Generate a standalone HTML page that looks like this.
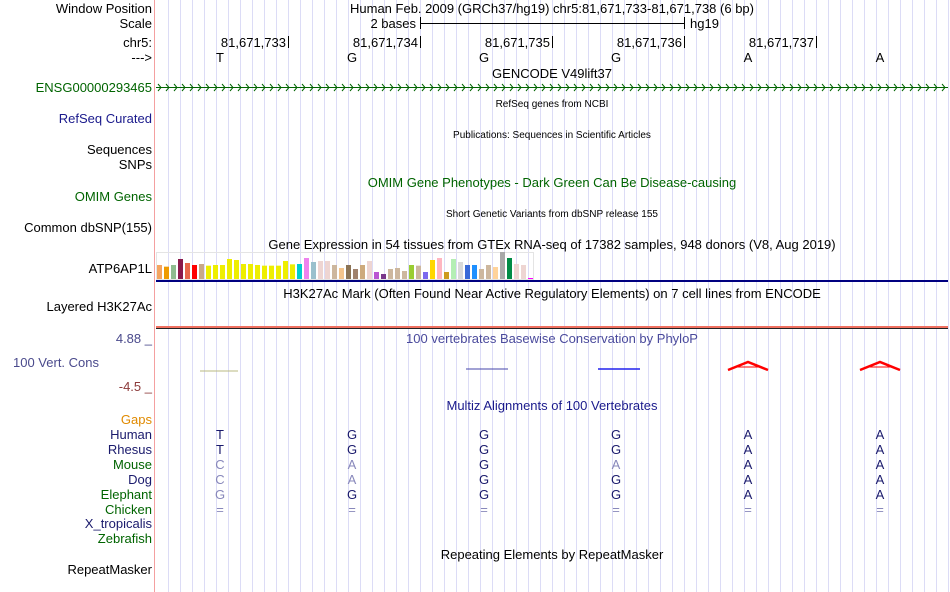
<!DOCTYPE html>
<html><head><meta charset="utf-8"><style>
body{margin:0;background:#fff;width:950px;height:592px;overflow:hidden}
svg{display:block;font-family:"Liberation Sans",sans-serif}
</style></head><body>
<svg width="950" height="592" viewBox="0 0 950 592" xmlns="http://www.w3.org/2000/svg">
<g stroke="#dcdcf6" stroke-width="1" id="grid"></g>
<line x1="154.5" y1="0" x2="154.5" y2="592" stroke="#f4a0a0"/>
<g font-size="13" text-anchor="end" fill="#000">
<text x="152" y="13">Window Position</text>
<text x="152" y="28">Scale</text>
<text x="152" y="47">chr5:</text>
<text x="152" y="62">---&gt;</text>
<text x="152" y="92" fill="#006400">ENSG00000293465</text>
<text x="152" y="123" fill="#1a1a8c">RefSeq Curated</text>
<text x="152" y="154">Sequences</text>
<text x="152" y="169">SNPs</text>
<text x="152" y="201" fill="#006400">OMIM Genes</text>
<text x="152" y="232">Common dbSNP(155)</text>
<text x="152" y="273">ATP6AP1L</text>
<text x="152" y="311">Layered H3K27Ac</text>
<text x="152" y="343" fill="#4a4a8c">4.88 _</text>
<text x="13" y="367" fill="#4a4a8c" text-anchor="start">100 Vert. Cons</text>
<text x="152" y="391" fill="#8c3a3a">-4.5 _</text>
<text x="152" y="424" fill="#e08a00">Gaps</text>
<text x="152" y="439" fill="#1a1a6c">Human</text>
<text x="152" y="454" fill="#1a1a6c">Rhesus</text>
<text x="152" y="469" fill="#006400">Mouse</text>
<text x="152" y="484" fill="#1a1a6c">Dog</text>
<text x="152" y="499" fill="#006400">Elephant</text>
<text x="152" y="514" fill="#006400">Chicken</text>
<text x="152" y="528" fill="#1a1a6c">X_tropicalis</text>
<text x="152" y="543" fill="#006400">Zebrafish</text>
<text x="152" y="574">RepeatMasker</text>
</g>
<g font-size="13" text-anchor="middle">
<text x="552" y="13">Human Feb. 2009 (GRCh37/hg19)   chr5:81,671,733-81,671,738 (6 bp)</text>
<text x="552" y="78">GENCODE V49lift37</text>
<text x="552" y="187" fill="#006400">OMIM Gene Phenotypes - Dark Green Can Be Disease-causing</text>
<text x="552" y="249">Gene Expression in 54 tissues from GTEx RNA-seq of 17382 samples, 948 donors (V8, Aug 2019)</text>
<text x="552" y="298">H3K27Ac Mark (Often Found Near Active Regulatory Elements) on 7 cell lines from ENCODE</text>
<text x="552" y="343" fill="#4a4a9c">100 vertebrates Basewise Conservation by PhyloP</text>
<text x="552" y="410" fill="#1a1a8c">Multiz Alignments of 100 Vertebrates</text>
<text x="552" y="559">Repeating Elements by RepeatMasker</text>
</g>
<g font-size="10" text-anchor="middle">
<text x="552" y="107">RefSeq genes from NCBI</text>
<text x="552" y="138">Publications: Sequences in Scientific Articles</text>
<text x="552" y="217">Short Genetic Variants from dbSNP release 155</text>
</g>
<g font-size="13" text-anchor="end">
<text x="416" y="28">2 bases</text><text x="690" y="28" text-anchor="start">hg19</text>
<text x="286" y="47">81,671,733</text><text x="418" y="47">81,671,734</text><text x="550" y="47">81,671,735</text><text x="682" y="47">81,671,736</text><text x="814" y="47">81,671,737</text>
</g>
<g stroke="#000">
<line x1="420.5" y1="17" x2="420.5" y2="29"/><line x1="684.5" y1="17" x2="684.5" y2="29"/><line x1="420" y1="23.5" x2="684" y2="23.5"/>
<line x1="288.5" y1="36" x2="288.5" y2="48"/><line x1="420.5" y1="36" x2="420.5" y2="48"/><line x1="552.5" y1="36" x2="552.5" y2="48"/><line x1="684.5" y1="36" x2="684.5" y2="48"/><line x1="816.5" y1="36" x2="816.5" y2="48"/>
</g>
<g font-size="13" text-anchor="middle" id="bases"></g>
<line x1="156" y1="87.5" x2="948" y2="87.5" stroke="#006400"/>
<path id="arr" fill="none" stroke="#006400" stroke-width="1"/>
<rect x="156.5" y="252.5" width="377" height="27" fill="none" stroke="#e4e4e4"/>
<g id="bars"></g>
<rect x="156" y="280" width="792" height="2" fill="#000080"/>
<rect x="156" y="326" width="792" height="2" fill="#f07060"/>
<rect x="156" y="328" width="792" height="1" fill="#222"/>
<line x1="200" y1="371" x2="238" y2="371" stroke="#b8b880"/>
<line x1="466" y1="369" x2="508" y2="369" stroke="#4444aa"/>
<line x1="598" y1="369" x2="640" y2="369" stroke="#2222ee" stroke-width="1.5"/>
<path d="M728 370 L748 362 L768 370" fill="none" stroke="#f00" stroke-width="2.5"/>
<line x1="734" y1="367" x2="762" y2="367" stroke="#f00"/>
<path d="M860 370 L880 362 L900 370" fill="none" stroke="#f00" stroke-width="2.5"/>
<line x1="866" y1="367" x2="894" y2="367" stroke="#f00"/>
<g font-size="13" text-anchor="middle" id="maf"></g>
</svg>
<script>
var ns="http://www.w3.org/2000/svg";
function el(p,t,a,txt){var e=document.createElementNS(ns,t);for(var k in a)e.setAttribute(k,a[k]);if(txt)e.textContent=txt;document.getElementById(p).appendChild(e);}
for(var x=168;x<=948;x+=12)el("grid","line",{x1:x+.5,y1:0,x2:x+.5,y2:592});
var b="TGGGAA";for(var i=0;i<6;i++)el("bases","text",{x:220+132*i,y:62},b[i]);
var d="";for(var x=158;x<946;x+=8)d+="M"+x+" 84 L"+(x+3)+" 87.5 L"+x+" 91 ";
document.getElementById("arr").setAttribute("d",d);
var cols=["#f4a460","#ee9a00","#8fbc8f","#8b1a4b","#e8684a","#ff0000","#c8a888","#eeee00","#eeee00","#eeee00","#eeee00","#eeee00","#eeee00","#eeee00","#eeee00","#eeee00","#eeee00","#eeee00","#eeee00","#eeee00","#00cdcd","#ee82ee","#9ac0cd","#eed5d2","#eed5d2","#cdb79e","#f4c48c","#8b7355","#a0826d","#cdaa7d","#eed5d2","#ba55d3","#7a378b","#cdb79e","#cdb79e","#cdb79e","#9acd32","#cdb79e","#7b68ee","#ffd700","#ffb6c1","#cd9b1d","#b4eeb4","#d9d9d9","#3a6ad8","#1e90ff","#cdb79e","#cdb79e","#ffd39b","#a9a9a9","#008b45","#eed5d2","#eed5d2","#ff00ff"];
var tops=[75,80,75,57,69,75,72,77,75,75,57,60,72,72,75,77,77,77,63,73,72,54,66,63,63,75,84,75,87,75,63,96,102,87,84,93,75,77,96,60,54,96,57,66,75,75,87,75,81,36,54,72,75,114];
for(var i=0;i<54;i++){var y=240+tops[i]/3;el("bars","rect",{x:157+7*i,y:y,width:5,height:Math.max(279-y,1),fill:cols[i]});}
var rows=["TGGGAA","TGGGAA","CAGAAA","CAGGAA","GGGGAA","======"];
var mask=[[0,0,0,0,0,0],[0,0,0,0,0,0],[1,1,0,1,0,0],[1,1,0,0,0,0],[1,0,0,0,0,0],[1,1,1,1,1,1]];
for(var r=0;r<6;r++)for(var i=0;i<6;i++){el("maf","text",{x:220+132*i,y:439+15*r,fill:mask[r][i]?"#8888bb":"#1a1a6c"},rows[r][i]);}
</script>
</body></html>
